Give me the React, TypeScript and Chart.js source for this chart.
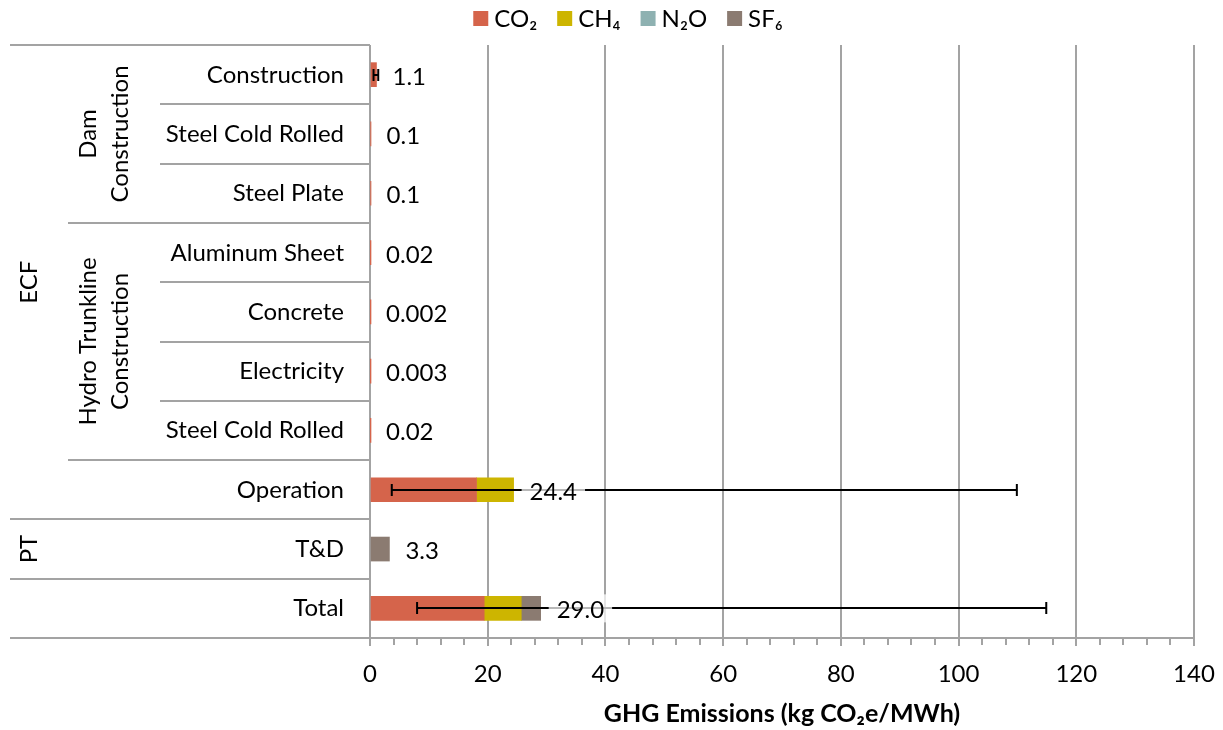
import { useEffect, useRef } from "react";
import { Chart, registerables } from "chart.js";

Chart.register(...registerables);

// Row labels, top to bottom
const categories = [
  "Construction",
  "Steel Cold Rolled",
  "Steel Plate",
  "Aluminum Sheet",
  "Concrete",
  "Electricity",
  "Steel Cold Rolled",
  "Operation",
  "T&D",
  "Total",
];

// Outer and middle grouping of the rows (inclusive index ranges)
const outerGroups = [
  { lines: ["ECF"], start: 0, end: 7 },
  { lines: ["PT"], start: 8, end: 8 },
];
const middleGroups = [
  { lines: ["Dam", "Construction"], start: 0, end: 2 },
  { lines: ["Hydro Trunkline", "Construction"], start: 3, end: 6 },
];

// Emissions by gas, kg CO2e/MWh
const co2Values = [1.1, 0.1, 0.1, 0.02, 0.002, 0.003, 0.02, 18.1, null, 19.4];
const ch4Values = [null, null, null, null, null, null, null, 6.3, null, 6.3];
const n2oValues = [null, null, null, null, null, null, null, null, null, null];
const sf6Values = [null, null, null, null, null, null, null, null, 3.3, 3.3];

// Decimals shown in each row's total label
const labelDecimals = [1, 1, 1, 2, 3, 3, 2, 1, 1, 1];

// Uncertainty range for rows that have one
const errorLow = [0.6, null, null, null, null, null, null, 3.7, null, 8.0];
const errorHigh = [1.4, null, null, null, null, null, null, 109.9, null, 114.9];

// Axis
const xMin = 0;
const xMax = 140;
const xStep = 20;
const xMinorStep = 4;
const xTitle = "GHG Emissions (kg CO\u2082e/MWh)";

const seriesLabels = ["CO\u2082", "CH\u2084", "N\u2082O", "SF\u2086"];
const seriesColors = ["#D5644B", "#CDB500", "#8EB1B1", "#8B7B71"];

const FONT = "Lato, 'DejaVu Sans', sans-serif";
const LINE = "#a3a3a3";

const OUTER_X = 10;
const MIDDLE_X = 68;
const INNER_X = 160;
const INNER_RIGHT = 344;

function rowTotal(i: number): number {
  return [co2Values, ch4Values, n2oValues, sf6Values].reduce(
    (s, arr) => s + ((arr[i] as number | null) ?? 0),
    0
  );
}

const tablePlugin = {
  id: "rowTable",
  afterDraw(chart: any) {
    const ctx: CanvasRenderingContext2D = chart.ctx;
    const area = chart.chartArea;
    const y = chart.scales.y;
    const n = categories.length;
    const center = (i: number) => y.getPixelForValue(i);
    const edge = (i: number) => (i <= 0 ? area.top : i >= n ? area.bottom : (center(i - 1) + center(i)) / 2);

    const groupOf = (groups: any[], i: number) =>
      groups.findIndex((g) => i >= g.start && i <= g.end);

    ctx.save();
    // separator lines
    ctx.strokeStyle = LINE;
    ctx.lineWidth = 2;
    for (let b = 0; b <= n; b++) {
      let startX = INNER_X;
      if (b === 0 || b === n || groupOf(outerGroups, b - 1) !== groupOf(outerGroups, b)) {
        startX = OUTER_X;
      } else if (groupOf(middleGroups, b - 1) !== groupOf(middleGroups, b)) {
        startX = MIDDLE_X;
      }
      const yy = Math.round(edge(b));
      ctx.beginPath();
      ctx.moveTo(startX, yy);
      ctx.lineTo(area.left, yy);
      ctx.stroke();
    }

    // row labels
    ctx.fillStyle = "#000";
    ctx.font = `24px ${FONT}`;
    ctx.textAlign = "right";
    ctx.textBaseline = "alphabetic";
    categories.forEach((c, i) => {
      ctx.fillText(c, INNER_RIGHT, center(i) + 8);
    });

    // rotated group labels
    const drawGroup = (g: any, baseX: number) => {
      const cy = (edge(g.start) + edge(g.end + 1)) / 2;
      g.lines.forEach((line: string, k: number) => {
        ctx.save();
        ctx.translate(baseX + k * 32, cy);
        ctx.rotate(-Math.PI / 2);
        ctx.textAlign = "center";
        ctx.fillText(line, 0, 0);
        ctx.restore();
      });
    };
    outerGroups.forEach((g) => drawGroup(g, OUTER_X + 27));
    middleGroups.forEach((g) => drawGroup(g, MIDDLE_X + 28));

    // minor tick marks on the value axis
    const x = chart.scales.x;
    ctx.strokeStyle = LINE;
    ctx.lineWidth = 2;
    for (let v = xMin; v <= xMax; v += xMinorStep) {
      if (v % xStep === 0) continue;
      const px = Math.round(x.getPixelForValue(v));
      ctx.beginPath();
      ctx.moveTo(px, area.bottom);
      ctx.lineTo(px, area.bottom + 7);
      ctx.stroke();
    }

    // legend
    ctx.font = `24px ${FONT}`;
    ctx.textAlign = "left";
    const box = 15;
    const gap = 6;
    const spacing = 20;
    const widths = seriesLabels.map((l) => ctx.measureText(l).width);
    const total =
      widths.reduce((s, w) => s + box + gap + w, 0) + spacing * (seriesLabels.length - 1);
    let lx = 628 - total / 2;
    seriesLabels.forEach((l, k) => {
      ctx.fillStyle = seriesColors[k];
      ctx.fillRect(lx, 11, box, box);
      ctx.fillStyle = "#000";
      ctx.fillText(l, lx + box + gap, 27);
      lx += box + gap + widths[k] + spacing;
    });
    ctx.restore();
  },
  afterDatasetsDraw(chart: any) {
    const ctx: CanvasRenderingContext2D = chart.ctx;
    const x = chart.scales.x;
    const y = chart.scales.y;
    ctx.save();
    // error bars
    ctx.strokeStyle = "#000";
    ctx.lineWidth = 2;
    categories.forEach((_, i) => {
      const lo = errorLow[i];
      const hi = errorHigh[i];
      if (lo == null || hi == null) return;
      const cy = Math.round(y.getPixelForValue(i));
      const x0 = x.getPixelForValue(lo);
      const x1 = x.getPixelForValue(hi);
      ctx.beginPath();
      ctx.moveTo(x0, cy);
      ctx.lineTo(x1, cy);
      ctx.moveTo(x0, cy - 6);
      ctx.lineTo(x0, cy + 6);
      ctx.moveTo(x1, cy - 6);
      ctx.lineTo(x1, cy + 6);
      ctx.stroke();
    });

    // total labels
    ctx.font = `24px ${FONT}`;
    ctx.textAlign = "left";
    ctx.textBaseline = "alphabetic";
    categories.forEach((_, i) => {
      const sum = rowTotal(i);
      const text = sum.toFixed(labelDecimals[i]);
      const tx = x.getPixelForValue(sum) + 16;
      const cy = y.getPixelForValue(i);
      const w = ctx.measureText(text).width;
      ctx.fillStyle = "rgba(255,255,255,0.72)";
      ctx.fillRect(tx - 8, cy - 14, w + 16, 28);
      ctx.fillStyle = "#000";
      ctx.fillText(text, tx, cy + 10);
    });
    ctx.restore();
  },
};

export default function App() {
  const canvasRef = useRef<HTMLCanvasElement | null>(null);

  useEffect(() => {
    const canvas = canvasRef.current;
    if (!canvas) return;
    const series = [co2Values, ch4Values, n2oValues, sf6Values];
    const chart = new Chart(canvas, {
      type: "bar",
      data: {
        labels: categories,
        datasets: series.map((data, k) => ({
          label: seriesLabels[k],
          data: data as any,
          backgroundColor: seriesColors[k],
          borderWidth: 0,
          barThickness: 24,
        })),
      },
      options: {
        indexAxis: "y",
        responsive: false,
        maintainAspectRatio: false,
        animation: false,
        layout: { padding: { left: 370, right: 29, top: 45, bottom: 0 } },
        plugins: {
          legend: { display: false },
          tooltip: { enabled: false },
        },
        scales: {
          x: {
            stacked: true,
            min: xMin,
            max: xMax,
            ticks: {
              stepSize: xStep,
              color: "#000",
              font: { family: FONT, size: 24 },
              padding: 14,
              maxRotation: 0,
            },
            grid: {
              color: LINE,
              lineWidth: 2,
              tickLength: 8,
              drawTicks: true,
            },
            border: { display: true, color: LINE, width: 2 },
            title: {
              display: true,
              text: xTitle,
              color: "#000",
              font: { family: FONT, size: 25, weight: "bold" },
              padding: { top: 0, bottom: 1 },
            },
            afterFit: (scale: any) => {
              scale.height = 92;
              scale.paddingLeft = 0;
              scale.paddingRight = 0;
            },
          },
          y: {
            stacked: true,
            display: false,
          },
        },
      },
      plugins: [tablePlugin],
    });
    return () => chart.destroy();
  }, []);

  return (
    <div style={{ position: "fixed", left: 0, top: 0, width: 1223, height: 730, background: "#fff" }}>
      <canvas ref={canvasRef} width={1223} height={730} />
    </div>
  );
}
